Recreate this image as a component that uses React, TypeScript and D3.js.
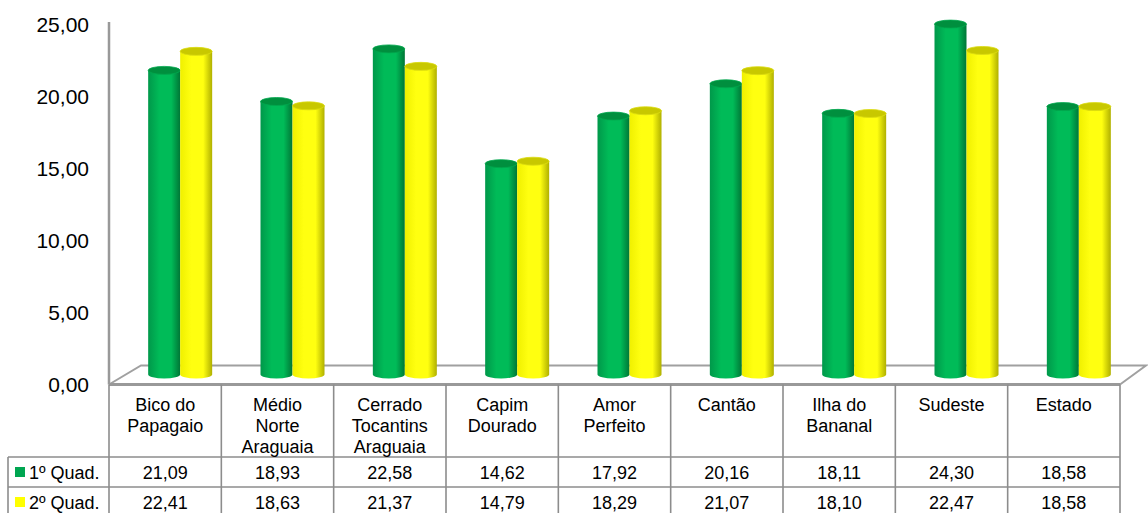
import React from "react";
import * as d3 from "d3";

// Regions (multi-line labels as shown in the table header)
const categories: string[][] = [
  ["Bico do", "Papagaio"],
  ["Médio", "Norte", "Araguaia"],
  ["Cerrado", "Tocantins", "Araguaia"],
  ["Capim", "Dourado"],
  ["Amor", "Perfeito"],
  ["Cantão"],
  ["Ilha do", "Bananal"],
  ["Sudeste"],
  ["Estado"],
];

const seriesNames = ["1º Quad.", "2º Quad."];
const quad1 = [21.09, 18.93, 22.58, 14.62, 17.92, 20.16, 18.11, 24.3, 18.58];
const quad2 = [22.41, 18.63, 21.37, 14.79, 18.29, 21.07, 18.1, 22.47, 18.58];
const yTicks = [0, 5, 10, 15, 20, 25];

const W = 1148;
const H = 513;

const plotLeft = 109;
const plotRight = 1120;
const floorFront = 384.5;
const floorDepthY = -19;
const floorBackLeftX = 141;
const floorBackRightX = 1146;
const barShiftX = 15;
const barShiftY = -10;
const barW = 32;
const capRy = 4;

const headerBottom = 457;
const rowH = 30;
const tableLeft = 8;

const fmt = (v: number) => d3.format(".2f")(v).replace(".", ",");

const palette = [
  { id: "g", left: "#00984a", mid: "#00bb58", right: "#007636", cap: "#008f3e", capRim: "#00a84e", key: "#00a651" },
  { id: "y", left: "#f0f000", mid: "#ffff10", right: "#b0b000", cap: "#c8c800", capRim: "#dcdc10", key: "#ffff00" },
];

export default function App() {
  const y = d3.scaleLinear().domain([0, 25]).range([floorFront, 24]);
  const x = d3
    .scaleBand<number>()
    .domain(d3.range(categories.length))
    .range([plotLeft, plotRight])
    .paddingInner(0)
    .paddingOuter(0);
  const inner = d3.scaleBand<number>().domain([0, 1]).range([-barW, barW]);
  const series = [quad1, quad2];
  const font = "Arial, 'Liberation Sans', sans-serif";
  const gridStroke = "#8c8c8c";

  const cylinder = (cx: number, yTop: number, yBase: number, si: number, key: string) => {
    const p = palette[si];
    const x0 = cx - barW / 2;
    const x1 = cx + barW / 2;
    const rx = barW / 2;
    const body = `M${x0},${yTop} L${x0},${yBase} A${rx},${capRy} 0 0 0 ${x1},${yBase} L${x1},${yTop} Z`;
    return (
      <g key={key}>
        <path d={body} fill={`url(#body-${p.id})`} />
        <ellipse cx={cx} cy={yTop} rx={rx} ry={capRy} fill={p.cap} stroke={p.capRim} strokeWidth={0.8} />
      </g>
    );
  };

  return (
    <svg
      width={W}
      height={H}
      style={{ position: "absolute", left: 0, top: 0, background: "#fff" }}
      fontFamily={font}
    >
      <defs>
        {palette.map((p) => (
          <linearGradient key={p.id} id={`body-${p.id}`} x1="0" x2="1" y1="0" y2="0">
            <stop offset="0" stopColor={p.left} />
            <stop offset="0.35" stopColor={p.mid} />
            <stop offset="0.72" stopColor={p.mid} />
            <stop offset="1" stopColor={p.right} />
          </linearGradient>
        ))}
      </defs>

      {/* floor */}
      <path
        d={`M${plotLeft},${floorFront} L${floorBackLeftX},${floorFront + floorDepthY} L${floorBackRightX},${
          floorFront + floorDepthY
        } L${plotRight},${floorFront}`}
        fill="#fff"
        stroke="#a0a0a0"
        strokeWidth={2}
      />

      {/* vertical axis */}
      <line x1={plotLeft} x2={plotLeft} y1={y(25) - 2} y2={floorFront} stroke="#999" strokeWidth={2.5} />
      {yTicks.map((t) => (
        <text key={t} x={89} y={y(t)} dy="0.36em" textAnchor="end" fontSize={21} fill="#000">
          {fmt(t)}
        </text>
      ))}

      {/* cylinders */}
      {categories.map((_, i) =>
        series.map((vals, si) => {
          const cx = (x(i) as number) + x.bandwidth() / 2 + barShiftX + (inner(si) as number) + barW / 2;
          return cylinder(cx, y(vals[i]) + barShiftY, y(0) + barShiftY, si, `${i}-${si}`);
        })
      )}

      {/* front edge of floor */}
      <line x1={plotLeft} x2={plotRight} y1={floorFront} y2={floorFront} stroke="#999" strokeWidth={3} />

      {/* data table */}
      <g stroke={gridStroke} strokeWidth={1.6}>
        {d3.range(categories.length + 1).map((k) => {
          const xx = k === categories.length ? plotRight : (x(k) as number);
          return <line key={k} x1={xx} x2={xx} y1={floorFront} y2={H + 5} />;
        })}
        <line x1={tableLeft} x2={tableLeft} y1={headerBottom} y2={H + 5} />
        {[0, 1, 2].map((r) => (
          <line key={r} x1={tableLeft} x2={plotRight} y1={headerBottom + r * rowH} y2={headerBottom + r * rowH} />
        ))}
      </g>

      {categories.map((lines, i) => (
        <text
          key={i}
          x={(x(i) as number) + x.bandwidth() / 2}
          y={411}
          textAnchor="middle"
          fontSize={18}
          fill="#000"
        >
          {lines.map((ln, li) => (
            <tspan key={li} x={(x(i) as number) + x.bandwidth() / 2} dy={li === 0 ? 0 : 21}>
              {ln}
            </tspan>
          ))}
        </text>
      ))}

      {series.map((vals, si) => {
        const base = headerBottom + si * rowH + 22;
        return (
          <g key={si}>
            <rect x={15} y={base - 12} width={10} height={10} fill={palette[si].key} />
            <text x={29} y={base} fontSize={18} fill="#000">
              {seriesNames[si]}
            </text>
            {vals.map((v, i) => (
              <text
                key={i}
                x={(x(i) as number) + x.bandwidth() / 2}
                y={base}
                textAnchor="middle"
                fontSize={18}
                fill="#000"
              >
                {fmt(v)}
              </text>
            ))}
          </g>
        );
      })}
    </svg>
  );
}
